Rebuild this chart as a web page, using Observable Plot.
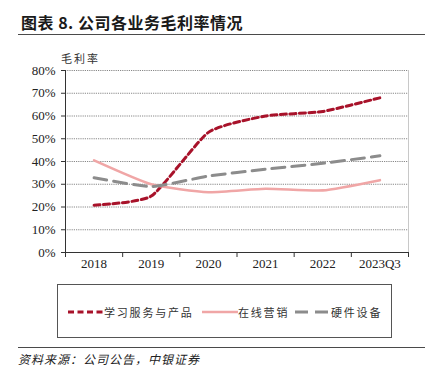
<!DOCTYPE html>
<html>
<head>
<meta charset="utf-8">
<script src="https://cdn.jsdelivr.net/npm/d3@7"></script>
<script src="https://cdn.jsdelivr.net/npm/@observablehq/plot@0.6"></script>
<style>
  body { margin: 0; background: #fff; }
  #wrap { position: relative; width: 431px; height: 374px; overflow: hidden; font-family: "Noto Sans CJK SC", sans-serif; }
  #title { position: absolute; left: 21px; top: 10px; font-size: 16px; font-weight: 700; color: #1a1a1a; white-space: nowrap; letter-spacing: 0.5px; }
  #rule1 { position: absolute; left: 18px; width: 407px; top: 34px; height: 0; border-top: 1.5px solid #4a4a4a; }
  #ylab { position: absolute; left: 61px; top: 50px; font-size: 11px; letter-spacing: 2px; color: #333; }
  #legend { position: absolute; left: 57px; top: 284px; width: 335px; height: 54px; border: 1px solid #555; box-sizing: border-box; }
  .li { position: absolute; top: 19px; height: 16px; display: flex; align-items: center; font-size: 11px; letter-spacing: 1.8px; color: #333; white-space: nowrap; }
  #rule2 { position: absolute; left: 18px; width: 407px; top: 347px; height: 0; border-top: 1.5px solid #4a4a4a; }
  #source { position: absolute; left: 18px; top: 350px; font-size: 12px; font-style: italic; letter-spacing: 1px; color: #222; white-space: nowrap; }
  #chart { position: absolute; left: 0; top: 0; }
</style>
</head>
<body>
<div id="wrap">
  <div id="chart"></div>
  <div id="title">图表 8. 公司各业务毛利率情况</div>
  <div id="rule1"></div>
  <div id="ylab">毛利率</div>
  <div id="legend"></div>
  <div id="rule2"></div>
  <div id="source">资料来源：公司公告，中银证券</div>
</div>
<script>
const categories = ["2018", "2019", "2020", "2021", "2022", "2023Q3"];
const learning = [0.208, 0.248, 0.528, 0.600, 0.620, 0.680];   // 学习服务与产品
const marketing = [0.405, 0.300, 0.265, 0.280, 0.273, 0.318];  // 在线营销
const hardware = [0.329, 0.290, 0.336, 0.366, 0.392, 0.425];   // 硬件设备
const seriesNames = ["学习服务与产品", "在线营销", "硬件设备"];
const yTicks = [0, 0.1, 0.2, 0.3, 0.4, 0.5, 0.6, 0.7, 0.8];

const colors = ["#A8122A", "#F0A6A6", "#8C8C8C"];
const dashes = ["6,3.5", null, "13,7"];
const widths = [3, 2.6, 3];

const seriesValues = [learning, marketing, hardware];
const data = seriesValues.flatMap((vals, s) => vals.map((v, i) => ({series: seriesNames[s], i, v})));

const idx = categories.map((_, i) => i);
const bounds = [...idx.map(i => i - 0.5), categories.length - 0.5];

const serif = "'Liberation Serif', 'Times New Roman', serif";

const lineMarks = seriesNames.map((name, s) =>
  Plot.line(data.filter(d => d.series === name), {
    x: "i", y: "v", curve: "cardinal", tension: 0.45,
    stroke: colors[s], strokeWidth: widths[s],
    strokeDasharray: dashes[s] || undefined
  })
);

const plot = Plot.plot({
  width: 431,
  height: 374,
  marginTop: 70,
  marginBottom: 122,
  marginLeft: 65,
  marginRight: 23,
  style: {fontFamily: serif, fontSize: "13px", color: "#222", background: "transparent"},
  x: {type: "linear", domain: [-0.5, categories.length - 0.5]},
  y: {domain: [0, 0.8]},
  marks: [
    Plot.ruleY(yTicks.filter(t => t > 0), {stroke: "#888", strokeDasharray: "1.2,1", strokeWidth: 1}),
    Plot.ruleX([categories.length - 0.5], {stroke: "#c8c8c8", strokeWidth: 1}),
    Plot.axisY({ticks: yTicks, tickFormat: d3.format(".0%"), tickSize: 4, tickPadding: 6, label: null, stroke: "#333", fontSize: 13}),
    Plot.axisX({ticks: bounds, tickFormat: () => "", tickSize: 5, label: null, stroke: "#333"}),
    Plot.axisX({ticks: idx, tickFormat: i => categories[i], tickSize: 0, tickPadding: 6, label: null, fontSize: 13}),
    Plot.ruleX([-0.5], {stroke: "#333", strokeWidth: 1}),
    Plot.ruleY([0], {stroke: "#333", strokeWidth: 1}),
    ...lineMarks
  ]
});
document.getElementById("chart").appendChild(plot);

// Legend
const legend = document.getElementById("legend");
const legendLeft = [10, 144, 237];
seriesNames.forEach((name, s) => {
  const item = document.createElement("div");
  item.className = "li";
  item.style.left = legendLeft[s] + "px";
  const sw = d3.create("svg").attr("width", 36).attr("height", 8);
  sw.append("line").attr("x1", 0).attr("x2", 36).attr("y1", 4).attr("y2", 4)
    .attr("stroke", colors[s]).attr("stroke-width", widths[s])
    .attr("stroke-dasharray", dashes[s] || null);
  item.appendChild(sw.node());
  const span = document.createElement("span");
  span.textContent = name;
  item.appendChild(span);
  legend.appendChild(item);
});
</script>
</body>
</html>
